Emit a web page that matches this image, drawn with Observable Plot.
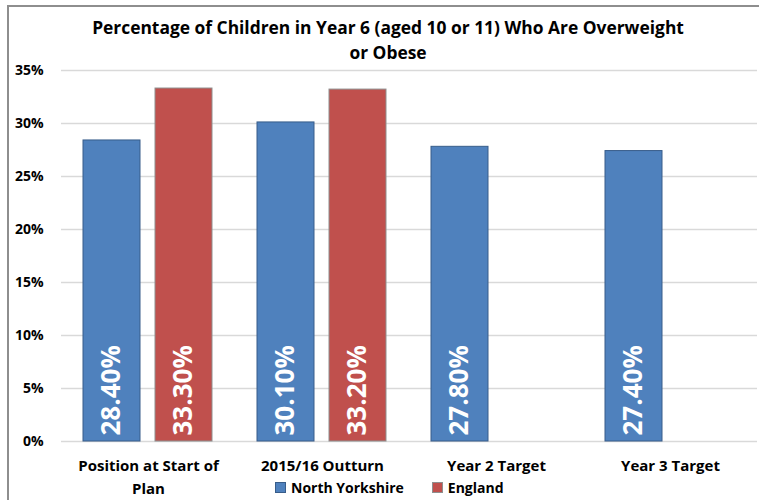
<!DOCTYPE html>
<html>
<head>
<meta charset="utf-8">
<script src="https://cdn.jsdelivr.net/npm/d3@7"></script>
<script src="https://cdn.jsdelivr.net/npm/@observablehq/plot@0.6"></script>
<style>
  html, body { margin: 0; padding: 0; background: #fff; }
  #wrap { position: relative; width: 759px; height: 500px; overflow: hidden; font-family: "Open Sans", "Liberation Sans", sans-serif; }
  #frame { position: absolute; left: 7px; top: 5px; width: 800px; height: 600px; border-left: 2px solid #8e8e8e; border-top: 2px solid #8e8e8e; pointer-events: none; }
  #title { position: absolute; left: 0; width: 776px; top: 15px; text-align: center; font-weight: bold; font-size: 17.4px; line-height: 25px; color: #000; }
  #legend { position: absolute; top: 478px; left: 275px; font-weight: bold; font-size: 14px; color: #000; display: flex; align-items: center; }
  .sw { display: inline-block; width: 9px; height: 9px; margin-right: 5px; }
  #chart { position: absolute; left: 0; top: 0; }
</style>
</head>
<body>
<div id="wrap">
  <div id="chart"></div>
  <div id="frame"></div>
  <div id="title">Percentage of Children in Year 6 (aged 10 or 11) Who Are Overweight<br>or Obese</div>
  <div id="legend"></div>
</div>
<script>
const categories = ["Position at Start of\nPlan", "2015/16 Outturn", "Year 2 Target", "Year 3 Target"];
const seriesNames = ["North Yorkshire", "England"];
const northYorkshire = [28.4, 30.1, 27.8, 27.4];
const england = [33.3, 33.2, null, null];
const yTicks = [0, 5, 10, 15, 20, 25, 30, 35];
const colors = ["#4f81bd", "#c0504d"];
const strokes = ["#385d8a", "#8f8f8f"];

const data = [];
categories.forEach((c, i) => {
  if (northYorkshire[i] != null) data.push({cat: c, series: seriesNames[0], value: northYorkshire[i]});
  if (england[i] != null) data.push({cat: c, series: seriesNames[1], value: england[i]});
});

const chart = Plot.plot({
  width: 759,
  height: 500,
  marginTop: 70,
  marginBottom: 59,
  marginLeft: 60,
  marginRight: 1,
  style: {fontFamily: "'Open Sans', 'Liberation Sans', sans-serif", background: "transparent"},
  fx: {domain: categories, padding: 0, label: null},
  x: {domain: seriesNames, paddingInner: 0.205, paddingOuter: 0.3, axis: null},
  y: {domain: [0, 35], label: null},
  color: {domain: seriesNames, range: colors},
  marks: [
    Plot.ruleY(yTicks, {stroke: "#d9d9d9", strokeWidth: 1.6}),
    Plot.barY(data, {fx: "cat", x: "series", y: "value", fill: "series",
      stroke: d => strokes[seriesNames.indexOf(d.series)], strokeWidth: 1}),
    Plot.text(data, {fx: "cat", x: "series", y: 0, text: d => d.value.toFixed(2) + "%",
      rotate: -90, textAnchor: "start", lineAnchor: "middle", dy: -6,
      fill: "white", fontSize: 26, fontWeight: "bold",
      fontFamily: "'Open Sans', sans-serif"}),
    Plot.axisY(yTicks, {tickSize: 0, tickPadding: 18, tickFormat: d => d + "%", fontSize: 14, fontWeight: "bold", fill: "#000"}),
    Plot.axisFx({anchor: "bottom", tickSize: 0, tickPadding: 14, fontSize: 15, fontWeight: "bold", fill: "#000", lineHeight: 1.5, label: null})
  ]
});
document.getElementById("chart").appendChild(chart);

const legend = document.getElementById("legend");
seriesNames.forEach((s, i) => {
  const item = document.createElement("span");
  item.style.display = "inline-flex";
  item.style.alignItems = "center";
  item.style.marginRight = i === 0 ? "28px" : "0";
  const sw = document.createElement("span");
  sw.className = "sw";
  sw.style.background = colors[i];
  sw.style.border = "1px solid " + strokes[i];
  item.appendChild(sw);
  item.appendChild(document.createTextNode(s));
  legend.appendChild(item);
});
</script>
</body>
</html>
